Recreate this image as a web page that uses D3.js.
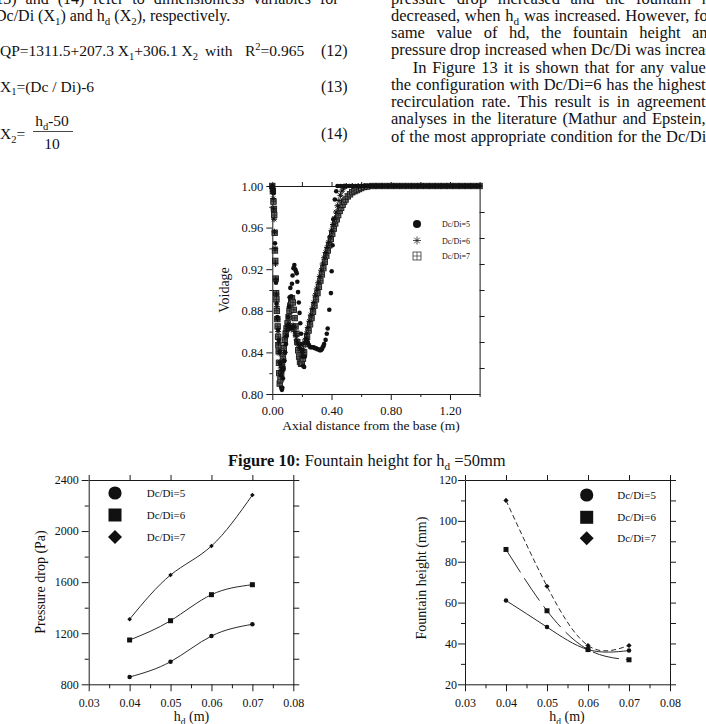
<!DOCTYPE html>
<html><head><meta charset="utf-8">
<script src="https://cdn.jsdelivr.net/npm/d3@7"></script>
<style>
body{margin:0;background:#fff}
svg{display:block}
text{font-family:"Liberation Serif","Times New Roman",serif;fill:#111}
</style>
</head><body>
<svg id="c" width="706" height="724"></svg>
<script>
// ================= DATA =================
const seriesNames = ["Dc/Di=5", "Dc/Di=6", "Dc/Di=7"];
const hdValues = [0.04, 0.05, 0.06, 0.07];
// Pressure drop (Pa)
const dpDc5 = [857, 977, 1178, 1270];
const dpDc6 = [1147, 1298, 1502, 1580];
const dpDc7 = [1310, 1656, 1883, 2282];
// Fountain height (mm)
const fhDc5 = [61, 48, 37, 36.5];
const fhDc6 = [86, 56, 37, 32];
const fhDc7 = [110, 68, 39, 39];
// tick labels
const hdTicks = [0.03, 0.04, 0.05, 0.06, 0.07, 0.08];
const dpTicks = [800, 1200, 1600, 2000, 2400];
const fhTicks = [20, 40, 60, 80, 100, 120];
const axialTicks = [0.00, 0.40, 0.80, 1.20];
const voidTicks = [0.80, 0.84, 0.88, 0.92, 0.96, 1.00];

// Voidage vs axial distance: [axial distance (m), voidage]
const voidDc5 = [
 [0,1.0],[0.002,0.998],[0.004,0.996],[0.006,0.994],[0.008,0.993],
 [0.018,0.945],[0.025,0.907],[0.029,0.887],[0.034,0.874],[0.039,0.862],[0.044,0.852],[0.049,0.841],
 [0.054,0.829],[0.058,0.818],[0.060,0.806],[0.065,0.804],[0.068,0.806],
 [0.072,0.815],[0.077,0.824],[0.082,0.832],[0.087,0.840],[0.092,0.848],[0.097,0.856],[0.102,0.865],
 [0.107,0.874],[0.112,0.884],[0.117,0.893],[0.122,0.902],[0.128,0.894],[0.133,0.906],[0.137,0.914],
 [0.143,0.921],[0.149,0.924],[0.155,0.920],[0.160,0.918],[0.165,0.916],[0.169,0.908],[0.174,0.898],
 [0.179,0.888],[0.184,0.878],[0.189,0.868],[0.194,0.858],[0.199,0.848],[0.204,0.836],[0.209,0.827],
 [0.215,0.826],[0.220,0.836],[0.225,0.849],[0.232,0.853],[0.240,0.850],[0.248,0.847],[0.256,0.845],
 [0.264,0.845],[0.272,0.845],[0.280,0.845],[0.288,0.844],[0.296,0.844],[0.304,0.843],[0.312,0.843],
 [0.320,0.842],[0.328,0.842],[0.334,0.843],[0.340,0.845],[0.345,0.846],[0.350,0.848],[0.360,0.852],
 [0.368,0.858],[0.374,0.863],[0.385,0.881],[0.396,0.897],[0.401,0.918],[0.407,0.943],[0.412,0.968],
 [0.422,0.987],[0.432,0.995],
 [0.44,1],[0.46,1],[0.48,1],[0.50,1],[0.52,1],[0.54,1],[0.56,1],[0.58,1],[0.60,1],[0.62,1],[0.64,1],
 [0.66,1],[0.68,1],[0.70,1],[0.72,1],[0.74,1],[0.76,1],[0.78,1],[0.80,1],[0.82,1],[0.84,1],[0.86,1],
 [0.88,1],[0.90,1],[0.92,1],[0.94,1],[0.96,1],[0.98,1],[1.00,1],[1.02,1],[1.04,1],[1.06,1],[1.08,1],
 [1.10,1],[1.12,1],[1.14,1],[1.16,1],[1.18,1],[1.20,1],[1.22,1],[1.24,1],[1.26,1],[1.28,1],[1.30,1],
 [1.32,1],[1.34,1],[1.36,1],[1.38,1],[1.40,1]
];
const voidDc6 = [
 [0,0.999],[0.003,0.995],[0.006,0.988],[0.009,0.978],[0.012,0.968],[0.015,0.956],[0.019,0.940],
 [0.022,0.925],[0.025,0.910],[0.028,0.896],[0.031,0.884],[0.035,0.872],[0.039,0.860],[0.043,0.849],
 [0.047,0.839],[0.052,0.831],[0.057,0.825],[0.062,0.822],[0.067,0.822],[0.072,0.826],[0.077,0.832],
 [0.082,0.840],[0.087,0.848],[0.092,0.855],[0.098,0.861],[0.104,0.865],[0.110,0.867],[0.116,0.866],
 [0.122,0.864],[0.128,0.862],[0.134,0.864],[0.140,0.866],[0.146,0.864],[0.152,0.860],[0.158,0.856],
 [0.164,0.852],[0.170,0.849],[0.176,0.847],[0.183,0.845],[0.190,0.844],[0.197,0.842],[0.204,0.840],
 [0.21,0.843],[0.22,0.852],[0.23,0.858],[0.24,0.864],[0.25,0.870],[0.26,0.876],[0.27,0.882],
 [0.28,0.888],[0.29,0.895],[0.30,0.901],[0.31,0.907],[0.32,0.913],[0.33,0.919],[0.34,0.925],
 [0.35,0.931],[0.36,0.936],[0.37,0.941],[0.38,0.946],[0.39,0.951],[0.40,0.957],[0.41,0.963],
 [0.42,0.969],[0.43,0.975],[0.44,0.981],[0.45,0.986],[0.46,0.991],[0.47,0.995],[0.48,0.998],[0.49,0.9995],
 [0.50,1],[0.54,1],[0.58,1],[0.62,1],[0.66,1],[0.70,1],[0.74,1],[0.78,1],[0.82,1],[0.86,1],[0.90,1],
 [0.94,1],[0.98,1],[1.02,1],[1.06,1],[1.10,1],[1.14,1],[1.18,1],[1.22,1],[1.26,1],[1.30,1],[1.34,1],[1.38,1]
];
const voidDc7 = [
 [0,1.0],[0.004,0.995],[0.008,0.985],[0.011,0.978],[0.013,0.972],[0.016,0.955],[0.018,0.938],
 [0.020,0.928],[0.023,0.911],[0.026,0.897],[0.028,0.891],[0.031,0.880],[0.034,0.872],[0.036,0.865],
 [0.039,0.855],[0.041,0.847],[0.043,0.841],[0.045,0.830],[0.047,0.820],[0.050,0.810],[0.055,0.814],
 [0.060,0.820],[0.066,0.828],[0.072,0.836],[0.078,0.844],[0.084,0.852],[0.090,0.858],[0.096,0.863],
 [0.103,0.868],[0.110,0.874],[0.116,0.880],[0.122,0.885],[0.128,0.889],[0.133,0.892],[0.139,0.888],
 [0.145,0.881],[0.151,0.873],[0.157,0.865],[0.163,0.858],[0.169,0.850],[0.175,0.842],[0.181,0.836],
 [0.187,0.831],[0.194,0.829],[0.200,0.830],[0.207,0.834],
 [0.215,0.840],[0.225,0.848],[0.235,0.855],[0.245,0.861],[0.255,0.867],[0.265,0.873],[0.275,0.879],
 [0.285,0.885],[0.295,0.891],[0.305,0.897],[0.315,0.903],[0.325,0.909],[0.335,0.915],[0.345,0.921],
 [0.355,0.927],[0.365,0.933],[0.375,0.938],[0.385,0.943],[0.395,0.949],[0.405,0.954],[0.415,0.959],
 [0.425,0.964],[0.435,0.968],[0.445,0.972],[0.455,0.976],[0.465,0.979],[0.475,0.982],[0.485,0.985],
 [0.495,0.987],[0.510,0.990],[0.525,0.992],[0.540,0.994],[0.555,0.995],[0.570,0.996],[0.585,0.997],
 [0.600,0.998],[0.620,0.999],[0.640,0.9995],
 [0.68,1],[0.72,1],[0.76,1],[0.80,1],[0.84,1],[0.88,1],[0.92,1],[0.96,1],[1.00,1],[1.04,1],[1.08,1],
 [1.12,1],[1.16,1],[1.20,1],[1.24,1],[1.28,1],[1.32,1],[1.36,1],[1.40,1]
];

// ================= HELPERS =================
const svg = d3.select("#c");
const INK = "#1a1a1a";

function rich(textSel, str, size){
  const parts = str.split(/(_\{[^}]*\}|\^\{[^}]*\})/g).filter(s => s.length);
  let shift = 0;
  parts.forEach(p => {
    let t = p, target = 0, fs = size;
    if (p.startsWith("_{")) { t = p.slice(2, -1); target = 0.25 * size; fs = 0.68 * size; }
    else if (p.startsWith("^{")) { t = p.slice(2, -1); target = -0.4 * size; fs = 0.68 * size; }
    const ts = textSel.append("tspan").text(t).attr("font-size", fs);
    if (target !== shift) { ts.attr("dy", target - shift); shift = target; }
  });
  return textSel;
}
function textLine(x, y, str, size, opts = {}){
  const t = svg.append("text").attr("x", x).attr("y", y).attr("font-size", size);
  if (opts.weight) t.attr("font-weight", opts.weight);
  if (opts.anchor) t.attr("text-anchor", opts.anchor);
  if (opts.transform) t.attr("transform", opts.transform);
  rich(t, str, size);
  return t;
}
function justified(x0, lastX, y, words, size){
  const nodes = words.map(w => textLine(0, y, w, size));
  const widths = nodes.map(n => n.node().getComputedTextLength());
  const n = words.length;
  const sum = widths.slice(0, n - 1).reduce((a, b) => a + b, 0);
  const gap = (lastX - x0 - sum) / (n - 1);
  let x = x0;
  nodes.forEach((nd, i) => { nd.attr("x", x); x += widths[i] + gap; });
}

// ================= BODY TEXT =================
const FS = 16, RFS = 16.5;
const lh = 17.25, b0 = 3.5;
// left column
justified(-10, 320, b0, ["(13)","and","(14)","refer","to","dimensionless","variables","for"], FS);
textLine(-5, b0 + lh, "Dc/Di (X_{1}) and h_{d} (X_{2}), respectively.", FS);
// equations
const eqFS = 15.5;
textLine(0, 56, "QP=1311.5+207.3 X_{1}+306.1 X_{2}", eqFS).attr("textLength", 198).attr("lengthAdjust", "spacing");
textLine(205, 56, "with", eqFS);
textLine(245, 56, "R^{2}=0.965", eqFS);
textLine(321, 56, "(12)", FS);
textLine(0, 91.5, "X_{1}=(Dc / Di)-6", eqFS);
textLine(321, 91.5, "(13)", FS);
textLine(0, 139, "X_{2}=", eqFS);
textLine(52, 126, "h_{d}-50", eqFS, {anchor: "middle"});
svg.append("line").attr("x1", 33).attr("x2", 73).attr("y1", 131.5).attr("y2", 131.5).attr("stroke", INK).attr("stroke-width", 0.8);
textLine(52, 149, "10", eqFS, {anchor: "middle"});
textLine(321, 139, "(14)", FS);
// right column
const rx = 391;
justified(rx, 701.7, b0, ["pressure","drop","increased","and","the","fountain","height"], RFS);
justified(rx, 694, b0 + lh, ["decreased,","when","h_{d}","was","increased.","However,","for"], RFS);
justified(rx, 692, b0 + 2*lh, ["same","value","of","hd,","the","fountain","height","and"], RFS);
textLine(rx, b0 + 3*lh, "pressure drop increased when Dc/Di was increased.", RFS);
justified(412.7, 670, b0 + 4*lh, ["In","Figure","13","it","is","shown","that","for","any","value"], RFS);
justified(rx, 658, b0 + 5*lh, ["the","configuration","with","Dc/Di=6","has","the","highest"], RFS);
justified(rx, 637, b0 + 6*lh, ["recirculation","rate.","This","result","is","in","agreement"], RFS);
justified(rx, 652, b0 + 7*lh, ["analyses","in","the","literature","(Mathur","and","Epstein,"], RFS);
justified(rx, 666, b0 + 8*lh, ["of","the","most","appropriate","condition","for","the","Dc/Di"], RFS);

// caption
const cap = svg.append("text").attr("x", 228).attr("y", 466).attr("font-size", 16.5);
cap.append("tspan").attr("font-weight", "bold").text("Figure 10:");
rich(cap, " Fountain height for h_{d} =50mm", 16.5);

// ================= AXIS HELPER =================
function styleAxis(g, fs){
  g.attr("font-family", null).attr("font-size", fs);
  g.selectAll("path.domain").attr("stroke", INK).attr("stroke-width", 1);
  g.selectAll(".tick line").attr("stroke", INK).attr("stroke-width", 1);
  g.selectAll(".tick text").attr("fill", "#111");
}
function frame(x, y, o){
  const [x0, x1] = x.range(), [y0, y1] = y.range(); // y0 bottom
  const gl = svg.append("g").attr("transform", `translate(${x0},0)`)
    .call(d3.axisLeft(y).tickValues(o.yMajor).tickSize(o.majLen).tickSizeOuter(0).tickPadding(o.yPad).tickFormat(o.yFmt));
  styleAxis(gl, o.fs);
  const glm = svg.append("g").attr("transform", `translate(${x0},0)`)
    .call(d3.axisLeft(y).tickValues(o.yMinor).tickSize(o.minLen).tickFormat(""));
  glm.select(".domain").remove(); styleAxis(glm, o.fs);
  const gb = svg.append("g").attr("transform", `translate(0,${y0})`)
    .call(d3.axisBottom(x).tickValues(o.xMajor).tickSize(o.majLen).tickSizeOuter(0).tickPadding(o.xPad).tickFormat(o.xFmt));
  styleAxis(gb, o.fs);
  const gbm = svg.append("g").attr("transform", `translate(0,${y0})`)
    .call(d3.axisBottom(x).tickValues(o.xMinor).tickSize(o.minLen).tickFormat(""));
  gbm.select(".domain").remove(); styleAxis(gbm, o.fs);
  const gt = svg.append("g").attr("transform", `translate(0,${y1})`)
    .call(d3.axisTop(x).tickValues(o.topTicks).tickSize(o.topLen).tickSizeOuter(0).tickFormat(""));
  styleAxis(gt, o.fs);
  const gr = svg.append("g").attr("transform", `translate(${x1},0)`)
    .call(d3.axisRight(y).tickValues(o.rightTicks).tickSize(o.rightLen).tickSizeOuter(0).tickFormat(""));
  styleAxis(gr, o.fs);
}

// ================= MIDDLE CHART (Voidage) =================
{
  const x = d3.scaleLinear().domain([0, 1.4]).range([272.3, 479.6]);
  const y = d3.scaleLinear().domain([0.8, 1.0]).range([394, 186]);
  frame(x, y, {
    fs: 12.5, majLen: 6, minLen: 3, yPad: 3, xPad: 6,
    yMajor: voidTicks, yMinor: [0.82, 0.86, 0.90, 0.94, 0.98], yFmt: d3.format(".2f"),
    xMajor: axialTicks, xMinor: [0.2, 0.6, 1.0, 1.4], xFmt: d3.format(".2f"),
    topTicks: [0, 0.2, 0.4, 0.6, 0.8, 1.0, 1.2, 1.4], topLen: 4,
    rightTicks: [0.825, 0.85, 0.875, 0.9, 0.925, 0.95, 0.975], rightLen: 5
  });
  const g = svg.append("g");
  // Dc/Di=7 : squares with cross
  const sq = g.append("g").selectAll("g").data(voidDc7).join("g")
    .attr("transform", d => `translate(${x(d[0])},${y(d[1])})`);
  sq.append("rect").attr("x", -2.7).attr("y", -2.7).attr("width", 5.4).attr("height", 5.4)
    .attr("fill", "#666").attr("stroke", "#1a1a1a").attr("stroke-width", 0.9);
  sq.append("path").attr("d", "M-2.7,0H2.7M0,-2.7V2.7").attr("stroke", "#1a1a1a").attr("stroke-width", 0.7);
  // Dc/Di=6 : asterisks
  g.append("g").selectAll("path").data(voidDc6).join("path")
    .attr("transform", d => `translate(${x(d[0])},${y(d[1])})`)
    .attr("d", "M-3,0H3M-2.1,-2.1L2.1,2.1M-2.1,2.1L2.1,-2.1M0,-3V3")
    .attr("stroke", "#111").attr("stroke-width", 1);
  // Dc/Di=5 : filled circles
  g.append("g").selectAll("circle").data(voidDc5).join("circle")
    .attr("cx", d => x(d[0])).attr("cy", d => y(d[1])).attr("r", 2.3).attr("fill", "#111");
  // legend
  const lg = svg.append("g");
  lg.append("circle").attr("cx", 417).attr("cy", 224).attr("r", 4).attr("fill", "#111");
  lg.append("path").attr("transform", "translate(417,240.5)")
    .attr("d", "M-4,0H4M-2.8,-2.8L2.8,2.8M-2.8,2.8L2.8,-2.8M0,-4V4").attr("stroke", "#222").attr("stroke-width", 0.8);
  lg.append("rect").attr("x", 413).attr("y", 252).attr("width", 8).attr("height", 8).attr("fill", "none").attr("stroke", "#333").attr("stroke-width", 0.8);
  lg.append("path").attr("d", "M413,256H421M417,252V260").attr("stroke", "#333").attr("stroke-width", 0.7);
  seriesNames.forEach((s, i) => lg.append("text").attr("x", 442).attr("y", [227, 243.5, 259][i]).attr("font-size", 8).text(s));
  // titles
  textLine(229, 290, "Voidage", 14, {anchor: "middle", transform: "rotate(-90,229,290)"});
  textLine(371, 430, "Axial distance from the base (m)", 13.5, {anchor: "middle"});
}

// ================= BOTTOM CHARTS =================
function diamondPath(r){ return `M0,${-r}L${r},0L0,${r}L${-r},0Z`; }
function bottomChart(cfg){
  const x = d3.scaleLinear().domain([0.03, 0.08]).range([cfg.left, cfg.right]);
  const y = d3.scaleLinear().domain(cfg.yDomain).range([684.3, 480]);
  frame(x, y, {
    fs: 12, majLen: 7, minLen: 4, yPad: cfg.yPad, xPad: 7,
    yMajor: cfg.yMajor, yMinor: cfg.yMinor, yFmt: d3.format("d"),
    xMajor: hdTicks, xMinor: [0.035, 0.045, 0.055, 0.065, 0.075], xFmt: d3.format(".2f"),
    topTicks: hdTicks, topLen: 5,
    rightTicks: cfg.rightTicks, rightLen: 6
  });
  const line = d3.line().x((d, i) => x(hdValues[i])).y(d => y(d)).curve(d3.curveNatural);
  const g = svg.append("g");
  cfg.series.forEach((vals, k) => {
    g.append("path").attr("d", line(vals)).attr("fill", "none").attr("stroke", "#2a2a2a")
      .attr("stroke-width", 1).attr("stroke-dasharray", cfg.dashes[k]);
  });
  cfg.series.forEach((vals, k) => {
    const pts = g.append("g").selectAll("path").data(vals).join("path")
      .attr("transform", (d, i) => `translate(${x(hdValues[i])},${y(d)})`).attr("fill", "#111");
    if (k === 0) pts.attr("d", d3.symbol(d3.symbolCircle, 16)());
    else if (k === 1) pts.attr("d", "M-2.5,-2.5H2.5V2.5H-2.5Z");
    else pts.attr("d", diamondPath(cfg.d7));
  });
  const lx = cfg.legX, ly = cfg.legY;
  svg.append("circle").attr("cx", lx).attr("cy", ly[0]).attr("r", 6.6).attr("fill", "#111");
  svg.append("rect").attr("x", lx - 6.5).attr("y", ly[1] - 6.5).attr("width", 13).attr("height", 13).attr("fill", "#111");
  svg.append("path").attr("transform", `translate(${lx},${ly[2]})`).attr("d", diamondPath(7)).attr("fill", "#111");
  seriesNames.forEach((s, i) => svg.append("text").attr("x", cfg.legTX).attr("y", ly[i] + 4).attr("font-size", 11).text(s));
  textLine(cfg.yTitleX, cfg.yTitleY, cfg.yTitle, 14, {anchor: "middle", transform: `rotate(-90,${cfg.yTitleX},${cfg.yTitleY})`});
  textLine(cfg.xTitleX, 721, "h_{d} (m)", 14, {anchor: "middle"});
}

bottomChart({
  left: 88.7, right: 293.3, yDomain: [800, 2400], yPad: 3,
  yMajor: dpTicks, yMinor: [1000, 1400, 1800, 2200],
  rightTicks: [800, 1000, 1200, 1400, 1600, 1800, 2000, 2200, 2400],
  series: [dpDc5, dpDc6, dpDc7], dashes: [null, null, null], d7: 2.3,
  legX: 115, legY: [493, 515, 537], legTX: 146.7,
  yTitle: "Pressure drop (Pa)", yTitleX: 45, yTitleY: 582, xTitleX: 191.5
});
bottomChart({
  left: 465, right: 670, yDomain: [20, 120], yPad: 1,
  yMajor: fhTicks, yMinor: [30, 50, 70, 90, 110],
  rightTicks: [20, 30, 40, 50, 60, 70, 80, 90, 100, 110, 120],
  series: [fhDc5, fhDc6, fhDc7], dashes: [null, "27,7", "5,3"], d7: 2.6,
  legX: 586.7, legY: [495, 517.3, 538.3], legTX: 617.3,
  yTitle: "Fountain height (mm)", yTitleX: 426, yTitleY: 578, xTitleX: 567
});
</script>
</body></html>
